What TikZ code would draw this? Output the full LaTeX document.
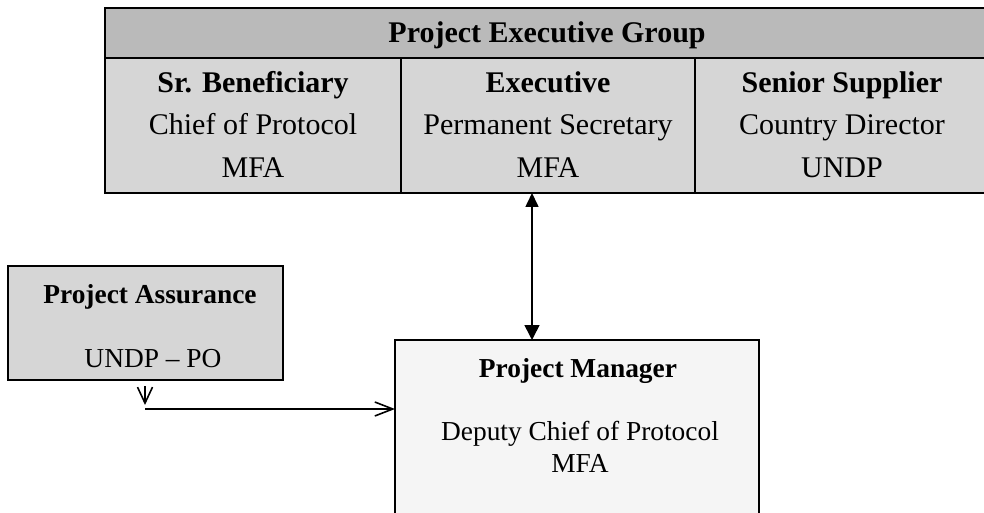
\documentclass[tikz,border=0pt]{standalone}
\usepackage{fontspec}
\setmainfont{Liberation Serif}
\usetikzlibrary{arrows.meta,calc,fit}
\begin{document}
\begin{tikzpicture}[x=0.5pt,y=-0.5pt,
  box/.style={draw=black,line width=1pt,inner sep=0pt,outer sep=0pt},
  hdrfill/.style={box,fill=black!27},
  cellfill/.style={box,fill=black!16},
  pmfill/.style={box,fill=black!4},
  big/.style={anchor=base,inner sep=0pt,font=\fontsize{15}{18}\selectfont},
  bigb/.style={anchor=base,inner sep=0pt,font=\fontsize{15}{18}\selectfont\bfseries},
  sml/.style={anchor=base,inner sep=0pt,font=\fontsize{13.7}{16}\selectfont},
  smlb/.style={anchor=base,inner sep=0pt,font=\fontsize{13.7}{16}\selectfont\bfseries},
  link/.style={line width=0.8pt}
]
\useasboundingbox (0,0) rectangle (984,513);
\clip (0,0) rectangle (984,513);

% Project Executive Group table
\node[hdrfill, fit={(105,8) (989,58)}] (hdr) {};
\node[cellfill, fit={(105,58) (401,193)}] (cellA) {};
\node[cellfill, fit={(401,58) (695,193)}] (cellB) {};
\node[cellfill, fit={(695,58) (989,193)}] (cellC) {};

\node[bigb] (hdrt) at (547,43) {Project Executive Group};

\node[bigb] (a1) at (253,93) {Sr. Beneficiary};
\node[big]  (a2) at (253,135) {Chief of Protocol};
\node[big]  (a3) at (253,178) {MFA};

\node[bigb] (b1) at (548,93) {Executive};
\node[big]  (b2) at (548,135) {Permanent Secretary};
\node[big]  (b3) at (548,178) {MFA};

\node[bigb] (c1) at (842,93) {Senior Supplier};
\node[big]  (c2) at (842,135) {Country Director};
\node[big]  (c3) at (842,178) {UNDP};

% Project Assurance
\node[cellfill, fit={(8,266) (283,380)}] (assur) {};
\node[smlb] (assurt) at (150,303) {Project Assurance};
\node[sml]  (assur2) at (153,367) {UNDP -- PO};

% Project Manager
\node[pmfill, fit={(395,340) (759,525)}] (pm) {};
\node[smlb] (pmt) at (578,377) {Project Manager};
\node[sml]  (pm2) at (580,440) {Deputy Chief of Protocol};
\node[sml]  (pm3) at (580,472) {MFA};

% connectors
\coordinate (ax) at (532,0);
\draw[link,{Triangle[length=7pt,width=6.5pt]}-{Triangle[length=7.5pt,width=7.5pt]}]
  (cellB.south -| ax) -- (pm.north -| ax);

\coordinate (vtop) at (145,386);
\coordinate (vtip) at (145,405);
\draw[link,-{Straight Barb[length=8pt,width=7.5pt]}] (vtop) -- (vtip);

\coordinate (hstart) at (145,409);
\draw[link,-{Straight Barb[length=9pt,width=7pt]}] (hstart) -- (hstart -| pm.west);
\end{tikzpicture}
\end{document}
